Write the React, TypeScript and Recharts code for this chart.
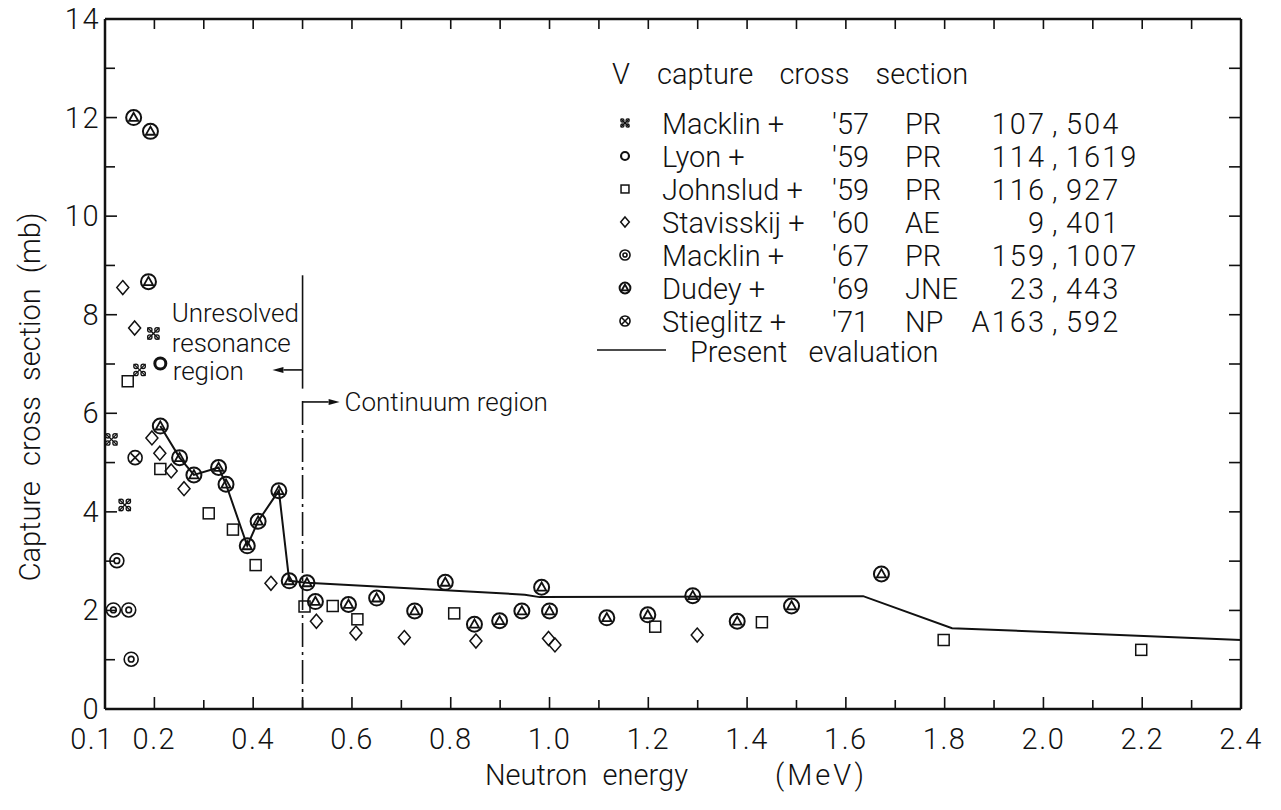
import React from "react";
import {
  ComposedChart,
  Label,
  ReferenceDot,
  ReferenceLine,
  Scatter,
  XAxis,
  YAxis,
} from "recharts";

// ticks
const energyTicks = [
  0.1, 0.2, 0.3, 0.4, 0.5, 0.6, 0.7, 0.8, 0.9, 1.0, 1.1, 1.2, 1.3, 1.4, 1.5,
  1.6, 1.7, 1.8, 1.9, 2.0, 2.1, 2.2, 2.3, 2.4,
];
const energyLabels = [
  "0.1", "0.2", "0.4", "0.6", "0.8", "1.0", "1.2", "1.4", "1.6", "1.8", "2.0",
  "2.2", "2.4",
];
const sigmaTicks = [0, 1, 2, 3, 4, 5, 6, 7, 8, 9, 10, 11, 12, 13, 14];
const sigmaLabels = ["0", "2", "4", "6", "8", "10", "12", "14"];

// Macklin + '57
const macklin57E = [0.113, 0.14, 0.17, 0.198];
const macklin57S = [5.47, 4.14, 6.88, 7.62];
// Lyon + '59
const lyonE = [0.212];
const lyonS = [7.01];
// Johnslud + '59
const johnsludE = [0.146, 0.212, 0.31, 0.359, 0.405, 0.504, 0.561, 0.611, 0.807, 1.214, 1.43, 1.798, 2.198];
const johnsludS = [6.65, 4.87, 3.97, 3.64, 2.92, 2.08, 2.09, 1.82, 1.94, 1.67, 1.76, 1.4, 1.2];
// Stavisskij + '60
const stavE = [0.136, 0.16, 0.195, 0.211, 0.234, 0.26, 0.436, 0.528, 0.608, 0.706, 0.851, 0.998, 1.011, 1.299];
const stavS = [8.55, 7.73, 5.5, 5.19, 4.83, 4.47, 2.55, 1.78, 1.54, 1.45, 1.38, 1.43, 1.3, 1.5];
// Macklin + '67
const macklin67E = [0.117, 0.124, 0.148, 0.153];
const macklin67S = [2.01, 3.01, 2.01, 1.01];
// Dudey + '69
const dudeyE = [
  0.158, 0.192, 0.188, 0.212, 0.251, 0.28, 0.33, 0.345, 0.388, 0.41, 0.452, 0.473, 0.509, 0.526, 0.593,
  0.65, 0.727, 0.789, 0.848, 0.899, 0.944, 0.984, 1.0, 1.116, 1.199, 1.29, 1.38, 1.49, 1.672,
];
const dudeyS = [
  12.0, 11.72, 8.67, 5.74, 5.1, 4.75, 4.9, 4.56, 3.31, 3.81, 4.43, 2.6, 2.56, 2.18, 2.12,
  2.25, 1.99, 2.57, 1.72, 1.79, 1.99, 2.47, 1.99, 1.85, 1.91, 2.3, 1.78, 2.09, 2.74,
];
// Stieglitz + '71
const stieglitzE = [0.161];
const stieglitzS = [5.1];
// present evaluation
const evalE = [0.212, 0.251, 0.28, 0.33, 0.345, 0.388, 0.41, 0.452, 0.473, 0.509, 0.95, 0.98, 1.635, 1.815, 2.4];
const evalS = [5.74, 5.1, 4.75, 4.9, 4.56, 3.31, 3.81, 4.43, 2.6, 2.56, 2.32, 2.27, 2.29, 1.64, 1.4];

const pts = (e: number[], s: number[]) => e.map((x, i) => ({ x, y: s[i] }));

const INK = "#111";
const FONT = "Roboto, 'Liberation Sans', sans-serif";
const AXIS_LINE = { stroke: INK, strokeWidth: 2.5 };

// markers
const mMacklin57 = (cx: number, cy: number, k = 1) => (
  <g stroke={INK} strokeWidth={1.3} fill="none">
    <line x1={cx - 6 * k} y1={cy - 6 * k} x2={cx + 6 * k} y2={cy + 6 * k} />
    <line x1={cx - 6 * k} y1={cy + 6 * k} x2={cx + 6 * k} y2={cy - 6 * k} />
    <circle cx={cx - 3.6 * k} cy={cy - 3.6 * k} r={2.2 * k} />
    <circle cx={cx + 3.6 * k} cy={cy - 3.6 * k} r={2.2 * k} />
    <circle cx={cx - 3.6 * k} cy={cy + 3.6 * k} r={2.2 * k} />
    <circle cx={cx + 3.6 * k} cy={cy + 3.6 * k} r={2.2 * k} />
  </g>
);
const mLyon = (cx: number, cy: number, k = 1) => (
  <circle cx={cx} cy={cy} r={5.5 * k} stroke={INK} strokeWidth={3 * k} fill="none" />
);
const mSquare = (cx: number, cy: number, k = 1) => (
  <rect x={cx - 5.5 * k} y={cy - 5.5 * k} width={11 * k} height={11 * k} stroke={INK} strokeWidth={1.5} fill="none" />
);
const mDiamond = (cx: number, cy: number, k = 1) => (
  <polygon
    points={`${cx},${cy - 7 * k} ${cx + 6 * k},${cy} ${cx},${cy + 7 * k} ${cx - 6 * k},${cy}`}
    stroke={INK}
    strokeWidth={1.5}
    fill="none"
  />
);
const mMacklin67 = (cx: number, cy: number, k = 1) => (
  <g stroke={INK} strokeWidth={1.6} fill="none">
    <circle cx={cx} cy={cy} r={7 * k} />
    <circle cx={cx} cy={cy} r={2.8 * k} />
  </g>
);
const mDudey = (cx: number, cy: number, k = 1) => (
  <g stroke={INK} fill="none">
    <circle cx={cx} cy={cy} r={7.5 * k} strokeWidth={2} />
    <polygon
      points={`${cx},${cy - 4.8 * k} ${cx - 4.6 * k},${cy + 3.4 * k} ${cx + 4.6 * k},${cy + 3.4 * k}`}
      strokeWidth={1.8}
    />
  </g>
);
const mStieglitz = (cx: number, cy: number, k = 1) => (
  <g stroke={INK} strokeWidth={1.6} fill="none">
    <circle cx={cx} cy={cy} r={7 * k} />
    <line x1={cx - 4.5 * k} y1={cy - 4.5 * k} x2={cx + 4.5 * k} y2={cy + 4.5 * k} />
    <line x1={cx - 4.5 * k} y1={cy + 4.5 * k} x2={cx + 4.5 * k} y2={cy - 4.5 * k} />
  </g>
);

const asShape = (fn: (cx: number, cy: number, k?: number) => React.ReactElement) =>
  (p: any) => fn(p.cx, p.cy);

// tick labels
const BottomTick = (p: any) => {
  const v: number = p.payload.value;
  const lab = v.toFixed(1);
  if (!energyLabels.includes(lab)) return <g />;
  return (
    <text
      x={v === 0.1 ? p.x - 13 : p.x}
      y={p.y + 40}
      textAnchor="middle"
      fontSize={29}
      letterSpacing={1.5}
      fill={INK}
      fontFamily={FONT}
      fontWeight={300}
    >
      {lab}
    </text>
  );
};
const LeftTick = (p: any) => {
  const v: number = p.payload.value;
  if (!sigmaLabels.includes(String(v))) return <g />;
  return (
    <text x={p.x - 5} y={p.y + 10} textAnchor="end" fontSize={29} letterSpacing={1.5} fill={INK} fontFamily={FONT} fontWeight={300}>
      {v}
    </text>
  );
};
const NoLabel = () => <g />;

// inward tick marks, drawn on the axis frame from reference segments
const xTickMarks = (major: boolean) => (p: any) => (
  <g stroke={INK} strokeWidth={1.6}>
    <line x1={p.x1} x2={p.x1} y1={p.y1} y2={p.y1 - (major ? 12 : 9)} />
    <line x1={p.x2} x2={p.x2} y1={p.y2} y2={p.y2 + 10} />
  </g>
);
const yTickMarks = (major: boolean) => (p: any) => (
  <g stroke={INK} strokeWidth={1.6}>
    <line x1={p.x1} x2={p.x1 + (major ? 12 : 10)} y1={p.y1} y2={p.y1} />
    <line x1={p.x2} x2={p.x2 - 12} y1={p.y2} y2={p.y2} />
  </g>
);

const YTitle = (p: any) => {
  const vb = p.viewBox;
  const cx = vb.x + 30;
  const cy = vb.y + vb.height / 2 + 33;
  return (
    <text
      x={cx}
      y={cy}
      transform={`rotate(-90 ${cx} ${cy})`}
      textAnchor="middle"
      dominantBaseline="central"
      fontSize={29}
      fontWeight={300}
      wordSpacing={8}
      fill={INK}
      fontFamily={FONT}
    >
      Capture cross section (mb)
    </text>
  );
};
const XTitle = (p: any) => {
  const vb = p.viewBox;
  const y = vb.y + 76;
  return (
    <g fontSize={29} fontWeight={300} fill={INK} fontFamily={FONT}>
      <text x={vb.x + 380} y={y} wordSpacing={8}>Neutron energy</text>
      <text x={vb.x + 762} y={y} textAnchor="end" letterSpacing={3}>(MeV)</text>
    </g>
  );
};

const Arrow = (p: any) => {
  const { x1, y1, x2, y2 } = p;
  const dx = x2 - x1;
  const dy = y2 - y1;
  const len = Math.hypot(dx, dy) || 1;
  const ux = dx / len;
  const uy = dy / len;
  const hx = x2 - ux * 11;
  const hy = y2 - uy * 11;
  return (
    <g>
      <line x1={x1} y1={y1} x2={hx} y2={hy} stroke={INK} strokeWidth={1.6} />
      <polygon points={`${x2},${y2} ${hx - uy * 3},${hy + ux * 3} ${hx + uy * 3},${hy - ux * 3}`} fill={INK} />
    </g>
  );
};

const note = (text: string) => (p: any) => (
  <text x={p.cx} y={p.cy} fontSize={26} fontWeight={300} fill={INK} fontFamily={FONT}>
    {text}
  </text>
);

const legendRows = [
  { mark: mMacklin57, name: "Macklin  +", year: "'57", jr: "PR", vol: "107", page: "504" },
  { mark: mLyon, name: "Lyon +", year: "'59", jr: "PR", vol: "114", page: "1619" },
  { mark: mSquare, name: "Johnslud +", year: "'59", jr: "PR", vol: "116", page: "927" },
  { mark: mDiamond, name: "Stavisskij +", year: "'60", jr: "AE", vol: "9", page: "401" },
  { mark: mMacklin67, name: "Macklin  +", year: "'67", jr: "PR", vol: "159", page: "1007" },
  { mark: mDudey, name: "Dudey  +", year: "'69", jr: "JNE", vol: "23", page: "443" },
  { mark: mStieglitz, name: "Stieglitz +", year: "'71", jr: "NP", vol: "A163", page: "592" },
];

const LegendBlock = () => (
  <svg
    width={1281}
    height={810}
    style={{ position: "absolute", left: 0, top: 0, pointerEvents: "none" }}
  >
    <g fontSize={29} fontWeight={300} fill={INK} fontFamily={FONT} style={{ whiteSpace: "pre" }}>
      <text x={612} y={84}>V</text>
      <text x={657} y={84} wordSpacing={19}>capture cross section</text>
      {legendRows.map((r, i) => {
        const base = 134 + i * 33;
        return (
          <g key={i}>
            {r.mark(625, base - 11, 0.72)}
            <text x={662} y={base}>{r.name}</text>
            <text x={832} y={base}>{r.year}</text>
            <text x={905} y={base}>{r.jr}</text>
            <text x={1046} y={base} textAnchor="end" letterSpacing={2}>{r.vol}</text>
            <text x={1052} y={base}>,</text>
            <text x={1066} y={base} letterSpacing={2}>{r.page}</text>
          </g>
        );
      })}
      <line x1={597} x2={666} y1={350} y2={350} stroke={INK} strokeWidth={1.6} />
      <text x={690} y={362} wordSpacing={14}>Present evaluation</text>
    </g>
  </svg>
);

export default function App() {
  return (
    <div style={{ position: "absolute", left: 0, top: 0, width: 1281, height: 810, background: "#fff" }}>
      <ComposedChart width={1281} height={810} margin={{ top: 18, right: 39, bottom: 0, left: 0 }}>
        <XAxis
          xAxisId="x"
          dataKey="x"
          type="number"
          domain={[0.1, 2.4]}
          ticks={energyTicks}
          interval={0}
          allowDataOverflow
          height={101}
          tickSize={0}
          tickMargin={0}
          tickLine={false}
          tick={BottomTick}
          axisLine={AXIS_LINE}
        >
          <Label content={XTitle} />
        </XAxis>
        <XAxis
          xAxisId="top"
          orientation="top"
          dataKey="x"
          type="number"
          domain={[0.1, 2.4]}
          ticks={energyTicks}
          interval={0}
          allowDataOverflow
          height={1}
          tickSize={0}
          tickLine={false}
          tick={NoLabel}
          axisLine={AXIS_LINE}
        />
        <YAxis
          yAxisId="y"
          dataKey="y"
          type="number"
          domain={[0, 14]}
          ticks={sigmaTicks}
          interval={0}
          allowDataOverflow
          width={105}
          tickSize={0}
          tickMargin={0}
          tickLine={false}
          tick={LeftTick}
          axisLine={AXIS_LINE}
        >
          <Label content={YTitle} />
        </YAxis>
        <YAxis
          yAxisId="right"
          orientation="right"
          dataKey="y"
          type="number"
          domain={[0, 14]}
          ticks={sigmaTicks}
          interval={0}
          allowDataOverflow
          width={1}
          tickSize={0}
          tickLine={false}
          tick={NoLabel}
          axisLine={AXIS_LINE}
        />

        {/* frame ticks */}
        {energyTicks.map((v) => (
          <ReferenceLine
            key={`xt${v}`}
            xAxisId="x"
            yAxisId="y"
            segment={[{ x: v, y: 0 }, { x: v, y: 14 }]}
            shape={xTickMarks(energyLabels.includes(v.toFixed(1)))}
          />
        ))}
        {sigmaTicks.map((v) => (
          <ReferenceLine
            key={`yt${v}`}
            xAxisId="x"
            yAxisId="y"
            segment={[{ x: 0.1, y: v }, { x: 2.4, y: v }]}
            shape={yTickMarks(sigmaLabels.includes(String(v)))}
          />
        ))}

        {/* region boundary at 0.5 MeV */}
        <ReferenceLine xAxisId="x" yAxisId="y" segment={[{ x: 0.5, y: 8.8 }, { x: 0.5, y: 6.5 }]} stroke={INK} strokeWidth={1.6} />
        <ReferenceLine xAxisId="x" yAxisId="y" segment={[{ x: 0.5, y: 6.25 }, { x: 0.5, y: 0 }]} stroke={INK} strokeWidth={1.6} strokeDasharray="24 5 3 5" />
        <ReferenceLine xAxisId="x" yAxisId="y" segment={[{ x: 0.5, y: 6.88 }, { x: 0.439, y: 6.88 }]} shape={Arrow} />
        <ReferenceLine xAxisId="x" yAxisId="y" segment={[{ x: 0.5, y: 6.23 }, { x: 0.575, y: 6.23 }]} shape={Arrow} />
        <ReferenceDot xAxisId="x" yAxisId="y" x={0.235} y={7.85} r={0} ifOverflow="visible" shape={note("Unresolved")} />
        <ReferenceDot xAxisId="x" yAxisId="y" x={0.235} y={7.24} r={0} ifOverflow="visible" shape={note("resonance")} />
        <ReferenceDot xAxisId="x" yAxisId="y" x={0.237} y={6.67} r={0} ifOverflow="visible" shape={note("region")} />
        <ReferenceDot xAxisId="x" yAxisId="y" x={0.585} y={6.04} r={0} ifOverflow="visible" shape={note("Continuum region")} />

        {/* carries the top and right frame axes */}
        <Scatter xAxisId="top" yAxisId="right" data={pts(evalE, evalS)} shape={() => <g />} legendType="none" isAnimationActive={false} />

        <Scatter
          name="Present evaluation"
          xAxisId="x"
          yAxisId="y"
          data={pts(evalE, evalS)}
          line={{ stroke: INK, strokeWidth: 2 }}
          shape={() => <g />}
          isAnimationActive={false}
        />
        <Scatter name="Macklin '57" xAxisId="x" yAxisId="y" data={pts(macklin57E, macklin57S)} shape={asShape(mMacklin57)} isAnimationActive={false} />
        <Scatter name="Lyon '59" xAxisId="x" yAxisId="y" data={pts(lyonE, lyonS)} shape={asShape(mLyon)} isAnimationActive={false} />
        <Scatter name="Johnslud '59" xAxisId="x" yAxisId="y" data={pts(johnsludE, johnsludS)} shape={asShape(mSquare)} isAnimationActive={false} />
        <Scatter name="Stavisskij '60" xAxisId="x" yAxisId="y" data={pts(stavE, stavS)} shape={asShape(mDiamond)} isAnimationActive={false} />
        <Scatter name="Macklin '67" xAxisId="x" yAxisId="y" data={pts(macklin67E, macklin67S)} shape={asShape(mMacklin67)} isAnimationActive={false} />
        <Scatter name="Dudey '69" xAxisId="x" yAxisId="y" data={pts(dudeyE, dudeyS)} shape={asShape(mDudey)} isAnimationActive={false} />
        <Scatter name="Stieglitz '71" xAxisId="x" yAxisId="y" data={pts(stieglitzE, stieglitzS)} shape={asShape(mStieglitz)} isAnimationActive={false} />
      </ComposedChart>
      <LegendBlock />
    </div>
  );
}
